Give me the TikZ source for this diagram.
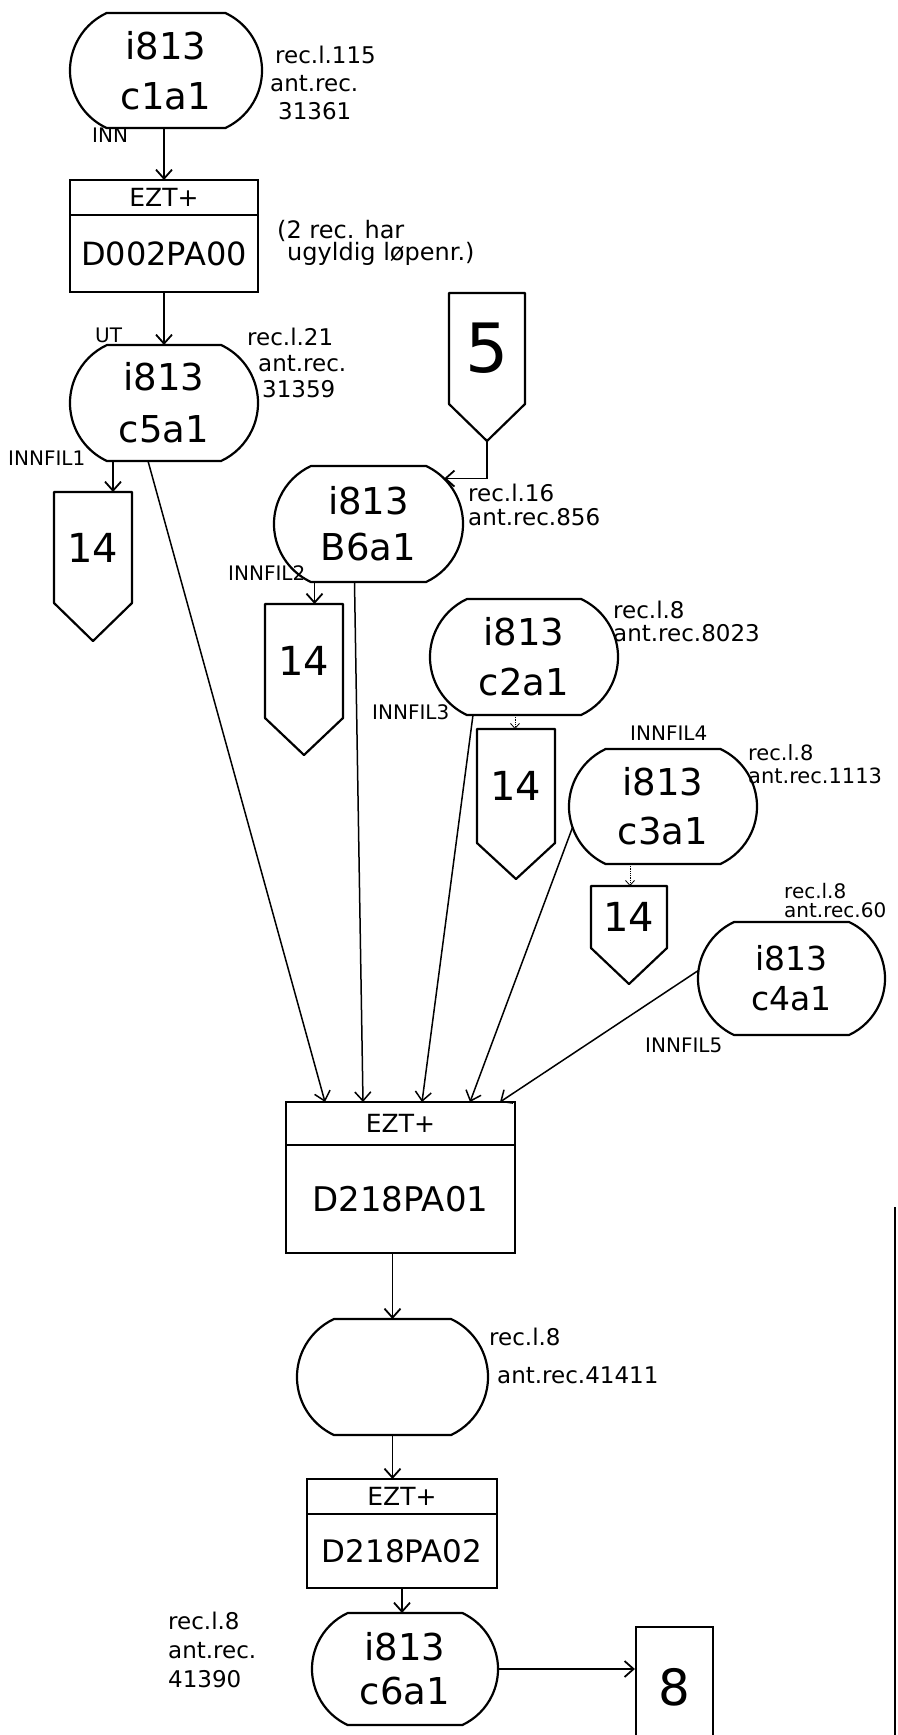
\documentclass[tikz,border=0pt]{standalone}
\usepackage{fontspec}
\setmainfont{DejaVu Sans}
\usetikzlibrary{shapes.misc, arrows.meta, positioning, calc}

\tikzset{
  terminal/.style={draw, line width=2.2pt, rounded rectangle, rounded rectangle arc length=130,
    minimum width=188pt, minimum height=115pt, inner sep=0pt, outer sep=0pt, align=center,
    font=\fontsize{37}{#1}\selectfont},
  terminal/.default=48,
  ezthead/.style={draw, line width=2.2pt, inner sep=0pt, outer sep=0pt, font=\fontsize{25}{25}\selectfont},
  eztbody/.style={draw, line width=2.2pt, inner sep=0pt, outer sep=0pt, font=\fontsize{#1}{#1}\selectfont},
  offpage/.style={inner sep=0pt, outer sep=0pt, minimum width=78pt, font=\fontsize{40}{40}\selectfont},
  outline/.style={line width=2.2pt, line join=round},
  note/.style={inner sep=0pt, anchor=west, align=left, font=\fontsize{23}{#1}\selectfont},
  note/.default=27,
  tag/.style={inner sep=0pt, anchor=west, font=\fontsize{20}{20}\selectfont},
  flow/.style={line width=1.8pt, -{Straight Barb[length=9pt, width=16pt, line width=1.8pt]}},
  feed/.style={line width=1.5pt, -{Straight Barb[length=9pt, width=16pt, line width=1.5pt]}},
  faint/.style={line width=0.8pt, densely dotted, -{Straight Barb[length=5pt, width=9pt, line width=0.8pt]}}
}

\begin{document}
\begin{tikzpicture}[x=1pt, y=-1pt]
    \useasboundingbox (0,0) rectangle (897,1735);

    % Nodes: program steps
    \node[terminal=50, minimum width=192pt] (c1a1) at (166,70.5) {i813\\c1a1};
    \node[ezthead, minimum width=188pt, minimum height=35pt] (h0) at (164,197.5) {EZT+};
    \node[eztbody=32, minimum width=188pt, minimum height=77pt, below=0pt of h0] (d0) {D002PA00};
    \node[terminal=52, minimum height=116pt] (c5a1) at (164,403) {i813\\c5a1};
    \node[terminal=46, minimum width=189pt, minimum height=116pt] (b6a1) at (368.5,524) {i813\\B6a1};
    \node[terminal=50, minimum height=116pt] (c2a1) at (524,657) {i813\\c2a1};
    \node[terminal=49] (c3a1) at (663,806.5) {i813\\c3a1};
    \node[terminal=40, minimum width=187pt, minimum height=113pt, font=\fontsize{33}{40}\selectfont] (c4a1) at (791.5,978.5) {i813\\c4a1};
    \node[ezthead, minimum width=229pt, minimum height=43pt] (h1) at (400.5,1123.5) {EZT+};
    \node[eztbody=34, minimum width=229pt, minimum height=108pt, below=0pt of h1] (d1) {D218PA01};
    \node[terminal, minimum width=191pt, minimum height=116pt] (tmp) at (392.5,1377) {};
    \node[ezthead, minimum width=190pt, minimum height=35pt] (h2) at (402,1496.5) {EZT+};
    \node[eztbody=31, minimum width=190pt, minimum height=74pt, below=0pt of h2] (d2) {D218PA02};
    \node[terminal=44, minimum width=186pt, minimum height=112pt] (c6a1) at (405,1669) {i813\\c6a1};
    \node[draw, line width=2.2pt, inner sep=0pt, minimum width=77pt, minimum height=120pt,
          font=\fontsize{50}{50}\selectfont] (b8) at (674.5,1687) {8};

    % Off-page connectors
    \node[offpage, minimum height=111pt] (k1) at (93,547.5) {14};
    \node[offpage, minimum height=114pt] (k2) at (304,661) {14};
    \node[offpage, minimum height=114pt] (k3) at (516,786) {14};
    \node[offpage, minimum width=76pt, minimum height=62pt] (k4) at (629,917) {14};
    \node[offpage, minimum width=76pt, minimum height=111pt, font=\fontsize{68}{68}\selectfont] (k5) at (487,348.5) {5};
    \foreach \k/\d in {k1/38, k2/37, k3/36, k4/36, k5/37}
        \draw[outline] (\k.north west) -- (\k.south west) -- ([yshift=-\d pt]\k.south)
            -- (\k.south east) -- (\k.north east) -- cycle;

    % Labels
    \node[tag] (tinn) at (92,135) {INN};
    \node[tag] (tut) at (95,335) {UT};
    \node[tag] (tf1) at (8,458) {INNFIL1};
    \node[tag] (tf2) at (228,573) {INNFIL2};
    \node[tag] (tf3) at (372,712) {INNFIL3};
    \node[tag] (tf4) at (630,733) {INNFIL4};
    \node[tag] (tf5) at (645,1045) {INNFIL5};

    \node[note=28] (r1) at (270,83) {\hspace*{5pt}rec.l.115\\ant.rec.\\\hspace*{8pt}31361};
    \node[note=26] (r5) at (247,363) {rec.l.21\\\hspace*{11pt}ant.rec.\\\hspace*{15pt}31359};
    \node[note=24] (rb6) at (468,505) {rec.l.16\\ant.rec.856};
    \node[note=23] (r2) at (613,621) {rec.l.8\\ant.rec.8023};
    \node[note=23, font=\fontsize{21}{23}\selectfont] (r3) at (748,764) {rec.l.8\\ant.rec.1113};
    \node[note=19, font=\fontsize{20}{19}\selectfont] (r4) at (784,901) {rec.l.8\\ant.rec.60};
    \node[note=38] (rt) at (489,1356) {rec.l.8\\\hspace*{8pt}ant.rec.41411};
    \node[note=29] (r6) at (168,1650) {rec.l.8\\ant.rec.\\41390};
    \node[note=22, font=\fontsize{24}{22}\selectfont] (rem) at (277,243)
        {(2 rec. har\\\hspace*{10pt}ugyldig løpenr.)};

    % Main flow
    \draw[flow] (c1a1.south -| h0) -- (h0.north);
    \draw[flow] (d0) -- (c5a1);
    \draw[flow] ([xshift=-51pt]c5a1.south) -- ([xshift=-51pt]c5a1.south |- k1.north);
    \draw[flow] ([yshift=-37pt]k5.south) |- (b6a1.31);
    \draw[flow] ([xshift=-54pt]b6a1.south) -- ([xshift=-54pt]b6a1.south |- k2.north);
    \draw[faint] ([xshift=-9pt]c2a1.south) -- ([xshift=-9pt]c2a1.south |- k3.north);
    \draw[faint] ([xshift=-33pt]c3a1.south) -- ([xshift=-33pt]c3a1.south |- k4.north);

    % Inputs to D218PA01
    \draw[feed] ([xshift=-16pt]c5a1.south) -- ([xshift=39pt]h1.north west);
    \draw[feed] ([xshift=-14pt]b6a1.south) -- ([xshift=77pt]h1.north west);
    \draw[feed] ([xshift=-51pt]c2a1.south) -- ([xshift=136pt]h1.north west);
    \draw[feed] (c3a1.193) -- ([xshift=184pt]h1.north west);
    \draw[feed] (c4a1.175) -- ([xshift=214pt]h1.north west);

    \draw[flow] (d1.south -| tmp.north) -- (tmp.north);
    \draw[flow] (tmp.south) -- (tmp.south |- h2.north);
    \draw[flow] (d2.south) -- (d2.south |- c6a1.north);
    \draw[flow] (c6a1.east) -- (c6a1.east -| b8.west);

    % page edge
    \draw[outline] (895,1207) -- (895,1745);
\end{tikzpicture}
\end{document}
